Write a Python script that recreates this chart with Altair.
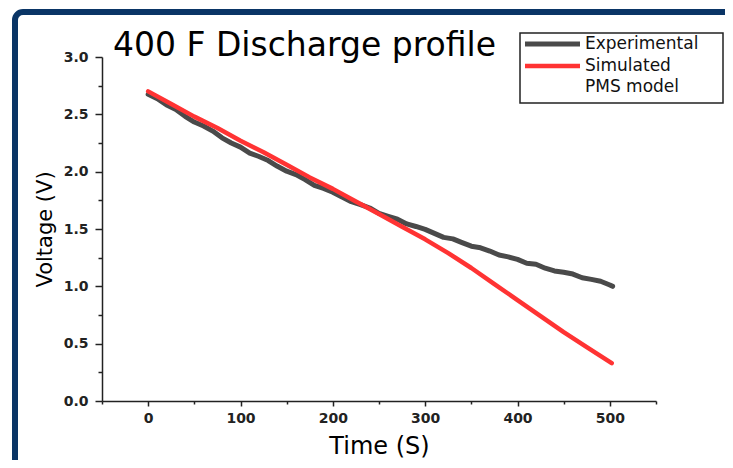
import altair as alt
import pandas as pd

# ---------------- data ----------------
exp_time = [0, 10, 20, 30, 40, 50, 60, 70, 80, 90, 100, 110, 120, 130, 140, 150,
            160, 170, 180, 190, 200, 210, 220, 230, 240, 250, 260, 270, 280, 290,
            300, 310, 320, 330, 340, 350, 360, 370, 380, 390, 400, 410, 420, 430,
            440, 450, 460, 470, 480, 490, 500, 503]
exp_voltage = [2.675, 2.636, 2.581, 2.543, 2.483, 2.433, 2.398, 2.354, 2.295, 2.250,
               2.214, 2.162, 2.132, 2.097, 2.047, 2.004, 1.975, 1.931, 1.881, 1.854,
               1.821, 1.778, 1.738, 1.713, 1.683, 1.636, 1.610, 1.585, 1.544, 1.522,
               1.497, 1.462, 1.427, 1.414, 1.381, 1.350, 1.336, 1.308, 1.273, 1.257,
               1.235, 1.201, 1.193, 1.158, 1.134, 1.123, 1.107, 1.075, 1.061, 1.044,
               1.012, 1.000]

sim_time = [0, 25, 50, 75, 100, 125, 150, 175, 200, 225, 250, 275, 300, 325,
            350, 375, 400, 425, 450, 475, 502]
sim_voltage = [2.70, 2.59, 2.48, 2.38, 2.27, 2.17, 2.06, 1.95, 1.85, 1.74, 1.63,
               1.52, 1.41, 1.29, 1.16, 1.02, 0.88, 0.74, 0.60, 0.47, 0.33]

series_names = ["Experimental", "Simulated", "PMS model"]
series_colors = ["#4a4a4a", "#ff3333", "rgba(0,0,0,0)"]
series_widths = [5, 4, 4]

x_tick_values = list(range(-50, 551, 50))
y_tick_values = [i * 0.25 for i in range(13)]

chart_title = "400 F Discharge profile"
x_title = "Time (S)"
y_title = "Voltage (V)"

df = pd.concat([
    pd.DataFrame({"t": exp_time, "v": exp_voltage, "series": series_names[0]}),
    pd.DataFrame({"t": sim_time, "v": sim_voltage, "series": series_names[1]}),
], ignore_index=True)

FONT = "DejaVu Sans"
W, H = 554, 344

x_axis = alt.Axis(
    values=x_tick_values,
    labelExpr="datum.value % 100 === 0 ? datum.label : ''",
    format="d",
    grid=False,
    domainColor="#222", domainWidth=1.5,
    tickColor="#222", tickWidth=1.5,
    tickSize={"condition": {"test": "datum.value % 100 === 0", "value": 5}, "value": 3},
    labelFont=FONT, labelFontSize=14, labelFontWeight="bold", labelColor="#222",
    labelPadding=5,
    title=x_title, titleFont=FONT, titleFontSize=24, titleFontWeight="normal",
    titleColor="#000", titlePadding=9,
)
y_axis = alt.Axis(
    values=y_tick_values,
    labelExpr="(datum.value * 2) % 1 === 0 ? format(datum.value, '.1f') : ''",
    grid=False,
    domainColor="#222", domainWidth=1.5,
    tickColor="#222", tickWidth=1.5,
    tickSize={"condition": {"test": "(datum.value * 2) % 1 === 0", "value": 7}, "value": 4},
    labelFont=FONT, labelFontSize=14, labelFontWeight="bold", labelColor="#222",
    labelPadding=7,
    title=y_title, titleFont=FONT, titleFontSize=21, titleFontWeight="normal",
    titleColor="#000", titlePadding=8,
)

lines = alt.Chart(df).mark_line(strokeCap="round", strokeJoin="round").encode(
    x=alt.X("t:Q", scale=alt.Scale(domain=[-50, 550], nice=False, zero=False), axis=x_axis),
    y=alt.Y("v:Q", scale=alt.Scale(domain=[0, 3], nice=False), axis=y_axis),
    color=alt.Color(
        "series:N",
        scale=alt.Scale(domain=series_names, range=series_colors),
        legend=alt.Legend(
            title=None, orient="none", legendX=414, legendY=-21.5,
            symbolType="M-11,0H11", symbolSize=25, symbolStrokeWidth=4,
            symbolOffset=28, labelOffset=24, padding=0, rowPadding=2,
            labelFont=FONT, labelFontSize=17, labelColor="#111",
        ),
    ),
    strokeWidth=alt.StrokeWidth(
        "series:N", scale=alt.Scale(domain=series_names, range=series_widths), legend=None
    ),
    order=alt.Order("t:Q"),
)

one = pd.DataFrame({"k": [0]})

border = alt.Chart(one).mark_rect(
    fill="transparent", stroke="#0a3566", strokeWidth=6, cornerRadius=8
).encode(x=alt.value(-87), x2=alt.value(720), y=alt.value(-45), y2=alt.value(520))

legend_frame = alt.Chart(one).mark_rect(
    fill="transparent", stroke="#222", strokeWidth=1.5
).encode(x=alt.value(418), x2=alt.value(621), y=alt.value(-24), y2=alt.value(46))

title_text = alt.Chart(one).mark_text(
    text=chart_title, font=FONT, fontSize=33, align="left", baseline="alphabetic", color="#000"
).encode(x=alt.value(11), y=alt.value(-1.3))

chart = alt.layer(border, lines, legend_frame, title_text).properties(
    width=W, height=H,
    autosize=alt.AutoSizeParams(type="none"),
    padding={"left": 94, "top": 49, "right": 69, "bottom": 59},
    background="white",
).configure_view(strokeWidth=0)

chart.save("out.html", embed_options={"renderer": "svg", "actions": False})
